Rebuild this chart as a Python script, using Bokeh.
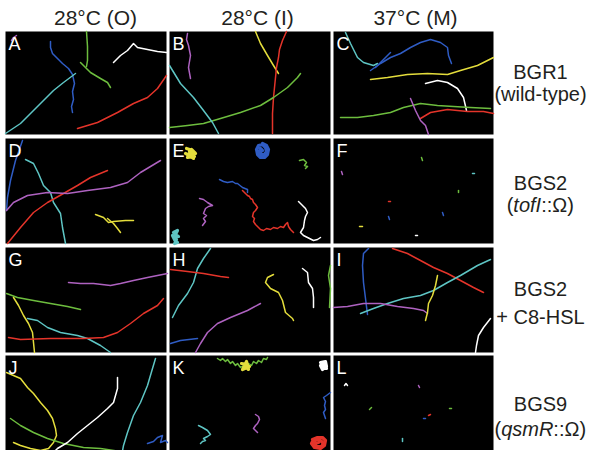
from bokeh.plotting import figure
from bokeh.models import Range1d
from bokeh.core.properties import value
from bokeh.embed import file_html
from bokeh.resources import INLINE

# ---------------- data ----------------
HEADERS = ["28°C (O)", "28°C (I)", "37°C (M)"]
ROW_NAMES = ["BGR1", "BGS2", "BGS2", "BGS9"]
ROW_SUBS = [["(wild-type)"], ["(", "tofI", "::Ω)"], ["+ C8-HSL"], ["(", "qsmR", "::Ω)"]]
ROW_SUB_ITALIC = [[False], [False, True, False], [False], [False, True, False]]
PANEL_LETTERS = ["A", "B", "C", "D", "E", "F", "G", "H", "I", "J", "K", "L"]

COLORS = {"r": "#e4342a", "b": "#2f5cc4", "g": "#6dbd3e", "c": "#5ec5c4",
          "y": "#e4dd3c", "p": "#ae62c0", "w": "#ffffff"}

# tracks: (colour, xs, ys) in pixels inside each panel (x right, y down)
tracks_A = [
    ("p", [6, 8, 11], [9, 6, 4]),
    ("b", [45, 45, 47, 50, 53, 57, 63, 67, 69, 67, 68, 66, 67], [10, 16, 22, 25, 28, 32, 37, 43, 52, 60, 68, 75, 81]),
    ("g", [81, 82, 82, 81], [0, 15, 29, 35]),
    ("g", [75, 80, 85, 90, 95, 102, 105], [31, 36, 41, 44, 47, 51, 56]),
    ("w", [108, 115, 122, 128, 132, 142, 152, 161], [31, 24, 19, 12, 16, 18, 20, 21]),
    ("c", [0, 15, 28, 38, 48, 58, 70], [102, 92, 79, 69, 59, 51, 42]),
    ("r", [72, 92, 112, 128, 142, 152, 161], [97, 91, 81, 72, 66, 57, 44]),
]
tracks_B = [
    ("p", [18, 17, 19, 21, 20, 19, 21], [2, 8, 14, 24, 30, 36, 47]),
    ("y", [86, 91, 98, 104, 109], [0, 12, 24, 34, 42]),
    ("r", [117, 113, 110, 109, 107, 106, 105, 104, 103, 103, 103], [0, 9, 18, 26, 36, 46, 56, 66, 82, 92, 102]),
    ("g", [0, 18, 34, 51, 71, 91, 104, 118, 128, 131], [96, 94, 92, 87, 81, 74, 66, 56, 46, 42]),
    ("c", [0, 11, 24, 34, 43, 49], [34, 52, 66, 79, 91, 102]),
]
tracks_C = [
    ("c", [12, 17, 24, 30, 40, 44], [1, 12, 26, 31, 34, 32]),
    ("b", [37, 47, 57, 67, 77, 87, 97, 107, 114, 115, 118], [39, 32, 26, 22, 16, 11, 8, 11, 16, 24, 32]),
    ("b", [42, 50, 57], [36, 28, 21]),
    ("y", [37, 54, 74, 94, 114, 127, 144, 160], [48, 46, 43, 42, 43, 39, 34, 26]),
    ("w", [92, 104, 114, 124, 130, 133], [52, 49, 51, 57, 66, 79]),
    ("g", [7, 24, 40, 57, 70, 87, 104, 120, 137, 157], [86, 86, 84, 81, 76, 72, 74, 75, 76, 77]),
    ("r", [87, 97, 114, 134, 150, 160], [87, 81, 78, 80, 80, 82]),
    ("p", [77, 82, 87, 92, 95], [67, 79, 89, 94, 103]),
]
tracks_D = [
    ("b", [17, 10, 5, 2, 1], [2, 22, 42, 59, 72]),
    ("c", [20, 28, 33, 38, 45, 48, 55, 57, 60], [21, 25, 35, 47, 54, 64, 75, 89, 105]),
    ("r", [2, 15, 28, 42, 58, 72, 85, 102], [105, 89, 74, 64, 55, 47, 39, 32]),
    ("p", [1, 8, 22, 42, 62, 82, 105, 122, 135, 155], [72, 64, 57, 54, 55, 52, 49, 44, 34, 22]),
    ("y", [90, 98, 103, 108, 120, 128], [76, 79, 84, 83, 82, 82]),
    ("y", [102, 108, 112, 115], [80, 85, 90, 94]),
]
tracks_E = [
    ("y", [17, 23, 19, 25, 18, 22, 26, 20, 24, 16, 21], [10, 12, 16, 18, 19, 11, 15, 13, 20, 15, 17]),
    ("b", [93, 97, 99, 98, 95, 91, 88, 87, 89, 93, 96, 97, 95, 92, 90, 91, 93], [5, 7, 11, 16, 19, 19, 16, 11, 7, 6, 9, 13, 16, 16, 13, 10, 12]),
    ("g", [130, 134, 137, 135, 138, 136], [22, 21, 24, 27, 28, 30]),
    ("b", [50, 54, 58, 63, 66, 68, 73, 78, 78], [41, 43, 44, 43, 45, 45, 49, 51, 54]),
    ("r", [73, 76, 78, 80, 81, 83, 84, 86, 88, 86, 84, 83, 85, 84, 86, 89, 91, 94, 97, 101, 104, 108, 111, 114, 116, 118, 119, 121, 124],
          [52, 55, 57, 58, 60, 61, 64, 66, 69, 72, 74, 78, 80, 83, 86, 89, 91, 92, 90, 91, 89, 90, 88, 89, 86, 84, 88, 91, 94]),
    ("p", [30, 34, 38, 43, 39, 36, 34, 37, 34, 36, 33], [60, 61, 64, 67, 68, 70, 75, 77, 80, 83, 87]),
    ("w", [129, 133, 136, 138, 136, 135, 134, 131, 134, 138, 144, 148, 151], [63, 67, 70, 74, 78, 82, 89, 94, 97, 99, 102, 101, 99]),
    ("c", [4, 8, 6, 9, 5, 7, 3, 6, 8, 5], [94, 92, 96, 98, 99, 101, 97, 103, 104, 105]),
]
tracks_F = [
    ("g", [88, 89], [19, 22]), ("p", [8, 9], [33, 36]), ("c", [139, 141], [35, 35]),
    ("g", [125, 125], [52, 54]), ("r", [55, 57], [63, 63]), ("b", [55, 56], [78, 81]),
    ("b", [109, 110], [74, 77]), ("y", [26, 29], [88, 88]), ("w", [82, 84], [97, 97]),
]
tracks_G = [
    ("p", [63, 75, 88, 105, 115, 128, 142, 152, 162], [35, 36, 36, 38, 36, 33, 30, 28, 26]),
    ("g", [1, 12, 28, 45, 62, 75], [46, 50, 53, 56, 59, 62]),
    ("y", [8, 13, 18, 23, 27, 28, 29], [50, 58, 68, 76, 85, 95, 105]),
    ("c", [22, 32, 42, 55, 72, 82, 95, 105], [71, 73, 80, 85, 88, 91, 98, 105]),
    ("r", [3, 15, 45, 78, 98, 112, 125, 138, 152, 158], [90, 92, 91, 91, 90, 85, 76, 66, 58, 51]),
]
tracks_H = [
    ("c", [41, 34, 28, 24, 18, 9, 3], [1, 11, 21, 35, 46, 58, 70]),
    ("r", [1, 18, 34, 51, 59], [22, 24, 26, 29, 30]),
    ("p", [91, 78, 61, 48, 38, 31, 26], [56, 63, 70, 76, 85, 96, 105]),
    ("b", [1, 11, 28], [96, 93, 91]),
    ("y", [104, 98, 96, 101, 109, 113, 116, 123, 124], [27, 30, 35, 41, 45, 53, 65, 71, 73]),
    ("w", [133, 138, 139, 143, 144, 144], [21, 25, 35, 41, 50, 60]),
    ("g", [161, 159, 161, 160], [18, 28, 41, 60]),
]
tracks_I = [
    ("b", [35, 30, 29, 30, 32, 34], [1, 6, 18, 35, 51, 67]),
    ("r", [59, 74, 87, 100, 114, 127, 140, 150], [1, 6, 13, 20, 26, 33, 40, 45]),
    ("c", [27, 40, 54, 70, 87, 100, 114, 127, 144, 157], [66, 61, 56, 51, 48, 43, 35, 28, 18, 12]),
    ("p", [0, 14, 30, 47, 64, 80, 90, 94], [60, 59, 56, 56, 59, 61, 63, 66]),
    ("y", [104, 102, 99, 95, 94, 92], [28, 38, 48, 56, 65, 73]),
    ("w", [157, 150, 145, 143, 142], [71, 80, 88, 98, 105]),
]
tracks_J = [
    ("y", [1, 8, 15, 22, 28, 35, 42, 47, 50, 51, 48, 43, 35, 25, 15, 8], [17, 20, 23, 32, 38, 47, 55, 63, 73, 80, 87, 93, 95, 93, 90, 87]),
    ("g", [5, 15, 28, 42, 58, 78, 95, 115, 135, 147], [63, 70, 77, 83, 88, 92, 93, 96, 102, 106]),
    ("w", [112, 112, 108, 102, 92, 82, 72, 62, 52, 45, 38], [22, 33, 47, 53, 62, 70, 78, 87, 93, 100, 106]),
    ("c", [150, 147, 142, 135, 128, 122, 118, 115], [3, 13, 30, 47, 60, 77, 90, 106]),
    ("r", [15, 25, 33, 37], [98, 97, 96, 97]),
    ("r", [22, 28], [103, 98]),
    ("b", [142, 148, 152, 157, 155, 160, 162], [88, 86, 82, 80, 87, 85, 87]),
]
tracks_K = [
    ("g", [48, 51, 53, 56, 58, 61, 63, 66, 68, 71, 74, 77, 79, 82, 84, 87, 89, 92, 94, 97, 98],
          [3, 5, 3, 6, 4, 8, 6, 10, 8, 12, 10, 12, 8, 10, 6, 8, 5, 7, 3, 4, 2]),
    ("y", [72, 78, 74, 80, 73, 77, 79, 75], [8, 9, 12, 11, 14, 6, 14, 10]),
    ("w", [151, 156, 157, 153, 151, 155, 157, 152], [7, 6, 11, 14, 10, 9, 13, 12]),
    ("b", [161, 157, 154, 156, 155, 156, 154, 156], [37, 40, 42, 46, 50, 54, 57, 63]),
    ("p", [86, 89, 90, 88, 86, 84, 86, 88], [59, 61, 64, 68, 70, 73, 75, 77]),
    ("c", [29, 33, 38, 41, 38, 34, 36, 33, 31], [70, 72, 75, 79, 81, 83, 85, 86, 88]),
    ("r", [143, 148, 153, 156, 155, 151, 145, 142, 143, 147, 151, 154, 152, 147, 145, 149],
          [84, 82, 82, 85, 90, 93, 92, 88, 86, 84, 85, 88, 91, 91, 88, 87]),
]
tracks_L = [
    ("w", [11, 12.5, 14], [30, 28, 30]), ("p", [85, 86], [30, 32]), ("g", [36, 38], [54, 52]),
    ("g", [116, 118], [53, 53]), ("r", [95, 97], [60, 59]), ("b", [90, 92], [63, 63]),
    ("c", [69, 69], [83, 86]), ("y", [31, 34], [97, 97]),
]
PANEL_TRACKS = [tracks_A, tracks_B, tracks_C, tracks_D, tracks_E, tracks_F,
                tracks_G, tracks_H, tracks_I, tracks_J, tracks_K, tracks_L]
BLOBS = {("E", 1), ("K", 6), ("K", 2), ("E", 0), ("K", 1), ("E", 7)}

# ---------------- layout ----------------
COL_L = [5, 169, 333]
COL_R = [166, 330, 493]
ROW_T = [31, 138, 247, 355]
ROW_B = [134, 243, 352, 460]
HEADER_X = [95, 257, 415]
HEADER_Y = 17
LABEL_X = 540
LABEL_Y1 = [71, 182, 288, 403]
LABEL_Y2 = [93, 204, 316, 428]
FONT = "Liberation Sans"
FS = 20
TEXT_COLOR = "#231f20"

p = figure(width=587, height=450, x_range=Range1d(0, 587), y_range=Range1d(450, 0),
           output_backend="svg", toolbar_location=None, min_border=0,
           x_axis_type=None, y_axis_type=None)
p.grid.visible = False
p.outline_line_color = None
p.background_fill_color = "white"
p.border_fill_color = "white"

lefts, rights, tops, bottoms = [], [], [], []
for r in range(4):
    for c in range(3):
        lefts.append(COL_L[c]); rights.append(COL_R[c])
        tops.append(ROW_T[r]); bottoms.append(ROW_B[r])
p.quad(left=lefts, right=rights, top=tops, bottom=bottoms, fill_color="black", line_color=None)

for i, tracks in enumerate(PANEL_TRACKS):
    r, c = divmod(i, 3)
    x0, y0 = COL_L[c], ROW_T[r]
    for j, (col, xs, ys) in enumerate(tracks):
        lw = 3.2 if (PANEL_LETTERS[i], j) in BLOBS else 1.5
        p.line([x0 + x for x in xs], [y0 + y for y in ys], line_color=COLORS[col],
               line_width=lw, line_join="round", line_cap="round")

# panel letters
lx, ly = [], []
for i in range(12):
    r, c = divmod(i, 3)
    lx.append(COL_L[c] + 3); ly.append(ROW_T[r] + 12)
p.text(x=lx, y=ly, text=PANEL_LETTERS, text_color="white", text_font=value(FONT),
       text_font_size=value("18px"), text_align="left", text_baseline="middle")

# headers
p.text(x=HEADER_X, y=[HEADER_Y] * 3, text=HEADERS, text_color=TEXT_COLOR, text_font=value(FONT),
       text_font_size=value("21px"), text_align="center", text_baseline="middle")

# row labels
p.text(x=[LABEL_X] * 4, y=LABEL_Y1, text=ROW_NAMES, text_color=TEXT_COLOR, text_font=value(FONT),
       text_font_size=value(f"{FS}px"), text_align="center", text_baseline="middle")

W = {"(": 333, ")": 333, ":": 278, "Ω": 768, "t": 278, "o": 556, "f": 278, "I": 278,
     "q": 556, "s": 500, "m": 833, "R": 722}
def width(s):
    return sum(W.get(ch, 556) for ch in s) * FS / 1000.0

for r in range(4):
    parts = ROW_SUBS[r]
    if len(parts) == 1:
        p.text(x=[LABEL_X], y=[LABEL_Y2[r]], text=parts, text_color=TEXT_COLOR, text_font=value(FONT),
               text_font_size=value(f"{FS}px"), text_align="center", text_baseline="middle")
        continue
    total = sum(width(s) for s in parts)
    x = LABEL_X - total / 2
    for s, it in zip(parts, ROW_SUB_ITALIC[r]):
        p.text(x=[x], y=[LABEL_Y2[r]], text=[s], text_color=TEXT_COLOR, text_font=value(FONT),
               text_font_size=value(f"{FS}px"), text_align="left", text_baseline="middle",
               text_font_style="italic" if it else "normal")
        x += width(s)

open("out.html", "w").write(file_html(p, INLINE))
